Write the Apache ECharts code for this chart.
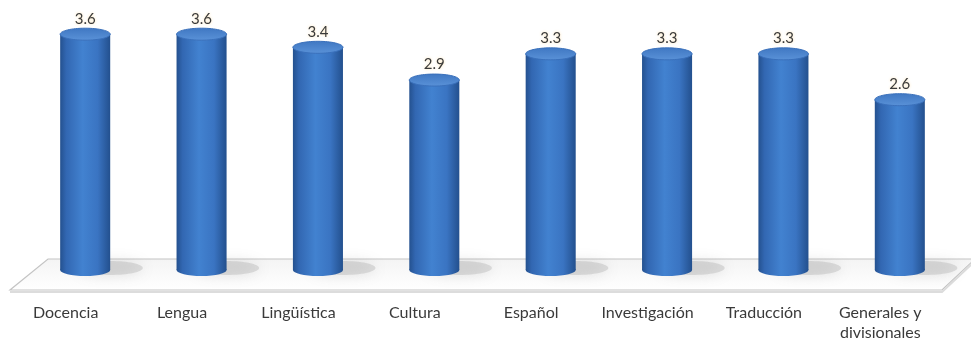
<!DOCTYPE html>
<html>
<head>
<meta charset="utf-8">
<script src="https://cdn.jsdelivr.net/npm/echarts@6/dist/echarts.min.js"></script>
<style>
  html, body { margin: 0; padding: 0; background: #ffffff; }
  #chart { width: 971px; height: 343px; }
</style>
</head>
<body>
<div id="chart"></div>
<script>
// Average score by area
const categories = ['Docencia', 'Lengua', 'Lingüística', 'Cultura', 'Español', 'Investigación', 'Traducción', 'Generales y\ndivisionales'];
const values = [3.6, 3.6, 3.4, 2.9, 3.3, 3.3, 3.3, 2.6];

const FONT = 'Lato, "Open Sans", sans-serif';

const bodyGradient = new echarts.graphic.LinearGradient(0, 0, 1, 0, [
  { offset: 0, color: '#24518f' },
  { offset: 0.12, color: '#3267b2' },
  { offset: 0.45, color: '#4282d0' },
  { offset: 0.75, color: '#3a74c2' },
  { offset: 1, color: '#23508e' }
]);
const capGradient = new echarts.graphic.LinearGradient(0, 0, 0, 1, [
  { offset: 0, color: '#3f77c2' },
  { offset: 1, color: '#5a92d8' }
]);

// Cylinder: floor shadow, body, bottom rounding, top cap and value text
function renderCylinder(params, api) {
  const idx = api.value(0);
  const v = api.value(1);
  const top = api.coord([idx, v]);
  const base = api.coord([idx, 0]);
  const w = api.size([1, 0])[0] * 0.43;
  const rx = w / 2;
  const ry = 6;
  return {
    type: 'group',
    children: [
      {
        type: 'ellipse',
        shape: { cx: base[0] + rx * 1.0, cy: base[1] - 2, rx: rx * 1.3, ry: 7 },
        style: { fill: 'rgba(170,170,170,0.35)', shadowBlur: 14, shadowColor: 'rgba(130,130,130,0.6)' },
        z2: 0
      },
      {
        type: 'rect',
        shape: { x: top[0] - rx, y: top[1], width: w, height: base[1] - top[1] },
        style: { fill: bodyGradient },
        z2: 1
      },
      {
        type: 'ellipse',
        shape: { cx: base[0], cy: base[1], rx: rx, ry: ry },
        style: { fill: bodyGradient },
        z2: 1
      },
      {
        type: 'ellipse',
        shape: { cx: top[0], cy: top[1], rx: rx, ry: ry },
        style: { fill: capGradient, stroke: '#3a70bb', lineWidth: 1 },
        z2: 2
      },
      {
        type: 'text',
        x: top[0],
        y: top[1] - ry - 2,
        style: {
          text: v.toFixed(1),
          fill: '#3a3a3a',
          font: '15px ' + FONT,
          align: 'center',
          verticalAlign: 'bottom',
          textShadowColor: 'rgba(255,225,170,0.9)',
          textShadowBlur: 3
        },
        z2: 3
      }
    ]
  };
}

const chart = echarts.init(document.getElementById('chart'), null, { renderer: 'canvas' });
chart.setOption({
  animation: false,
  backgroundColor: '#ffffff',
  grid: { left: 27, right: 13, top: 8, bottom: 72 },
  graphic: [
    {
      type: 'polygon',
      z: -10,
      shape: { points: [[48, 259], [975, 259], [942, 290], [10, 290]] },
      style: {
        fill: new echarts.graphic.LinearGradient(0, 0, 0, 1, [
          { offset: 0, color: '#f4f4f4' },
          { offset: 1, color: '#ffffff' }
        ]),
        stroke: '#c4c4c4',
        lineWidth: 1.2
      }
    },
    {
      type: 'polyline',
      z: -9,
      shape: { points: [[10, 292], [942, 292], [975, 261]] },
      style: { stroke: '#dcdcdc', lineWidth: 2, fill: null }
    }
  ],
  xAxis: {
    type: 'category',
    data: categories,
    axisLine: { show: false },
    axisTick: { show: false },
    axisLabel: {
      margin: 33,
      color: '#3a3a3a',
      fontFamily: FONT,
      fontSize: 16,
      lineHeight: 20,
      padding: [0, 39, 0, 0],
      interval: 0
    }
  },
  yAxis: {
    type: 'value',
    min: 0,
    max: 4,
    show: false,
    splitLine: { show: false }
  },
  series: [
    {
      type: 'custom',
      renderItem: renderCylinder,
      data: values.map((v, i) => [i, v]),
      clip: false
    }
  ]
});
</script>
</body>
</html>
